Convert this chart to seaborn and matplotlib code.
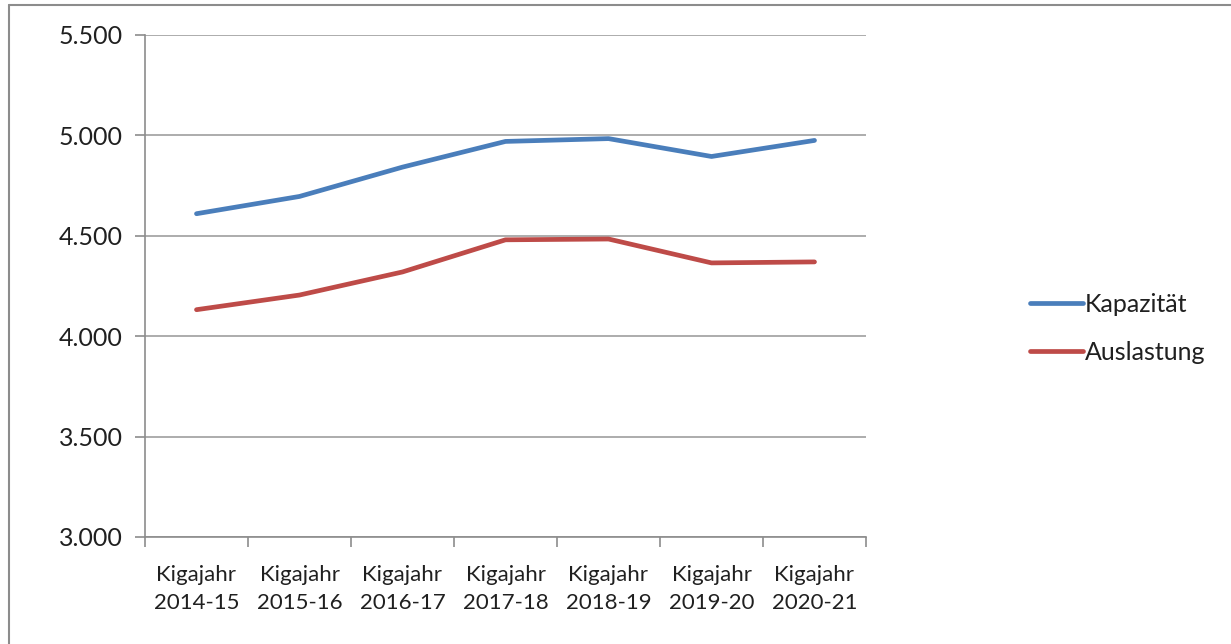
import matplotlib
matplotlib.use("Agg")
import matplotlib.pyplot as plt
import seaborn as sns
import pandas as pd
from matplotlib.ticker import FuncFormatter, FixedLocator
from matplotlib.lines import Line2D

categories = ["Kigajahr\n2014-15", "Kigajahr\n2015-16", "Kigajahr\n2016-17",
              "Kigajahr\n2017-18", "Kigajahr\n2018-19", "Kigajahr\n2019-20",
              "Kigajahr\n2020-21"]
kapazitaet = [4610, 4696, 4842, 4970, 4984, 4895, 4975]
auslastung = [4132, 4205, 4320, 4480, 4484, 4365, 4370]
series_names = ["Kapazität", "Auslastung"]
colors = ["#4A7EBB", "#BE4B48"]

rows = []
for i, c in enumerate(categories):
    rows.append({"pos": i, "value": kapazitaet[i], "Serie": series_names[0]})
    rows.append({"pos": i, "value": auslastung[i], "Serie": series_names[1]})
df = pd.DataFrame(rows)

sns.set_theme(style="white")
plt.rcParams["font.family"] = ["Lato", "DejaVu Sans"]

fig = plt.figure(figsize=(12.31, 6.44), dpi=100)
ax = fig.add_axes([145/1231, 1-537/644, (866-145)/1231, (537-35)/644])

sns.lineplot(data=df, x="pos", y="value", hue="Serie", palette=colors,
             linewidth=3.4, ax=ax, legend=False, solid_capstyle="round")

ax.set_xlim(-0.5, len(categories) - 0.5)
ax.set_ylim(3000, 5500)
ax.set_yticks(range(3000, 5501, 500))
ax.yaxis.set_major_formatter(FuncFormatter(lambda v, p: f"{int(v):,}".replace(",", ".")))
ax.set_xticks(range(len(categories)))
ax.set_xticklabels(categories, fontsize=16, color="#202020", linespacing=1.5)
ax.xaxis.set_minor_locator(FixedLocator([i - 0.5 for i in range(len(categories) + 1)]))
ax.tick_params(axis="x", which="major", length=0, pad=20)
ax.tick_params(axis="x", which="minor", length=7, width=1.2, color="#8C8C8C", bottom=True)
ax.tick_params(axis="y", which="major", length=7, width=1.2, color="#8C8C8C", left=True,
               labelsize=18, labelcolor="#202020", pad=9)
ax.grid(axis="y", color="#A6A6A6", linewidth=1.3)
ax.grid(axis="x", visible=False)
ax.set_xlabel("")
ax.set_ylabel("")
for s in ["top", "right"]:
    ax.spines[s].set_visible(False)
for s in ["left", "bottom"]:
    ax.spines[s].set_color("#8C8C8C")
    ax.spines[s].set_linewidth(1.2)

handles = [Line2D([0], [0], color=c, linewidth=3.4, solid_capstyle="round") for c in colors]
fig.legend(handles, series_names, loc="center left",
           bbox_to_anchor=(1030/1231, 1-328/644), frameon=False,
           borderpad=0, borderaxespad=0,
           fontsize=18, handlelength=2.1, handletextpad=0.1,
           labelspacing=1.0, labelcolor="#202020")

# outer frame (partially visible)
fig.add_artist(Line2D([9/1231, 9/1231], [0, 1-5/644], transform=fig.transFigure,
                      color="#8C8C8C", linewidth=1.5))
fig.add_artist(Line2D([9/1231, 1], [1-5/644, 1-5/644], transform=fig.transFigure,
                      color="#8C8C8C", linewidth=1.5))

fig.savefig("out.png", dpi=100, facecolor="white")
